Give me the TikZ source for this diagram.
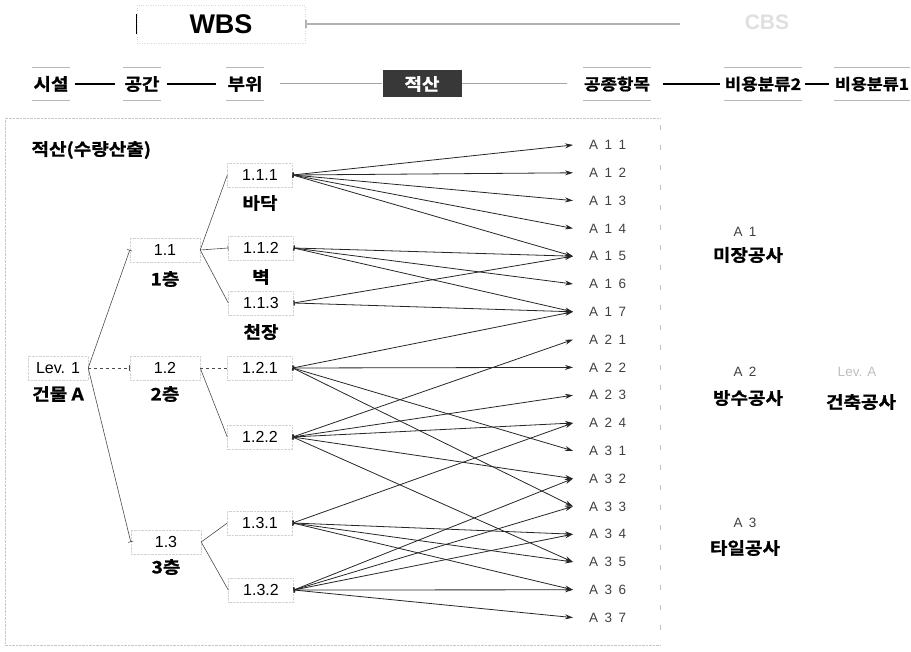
\documentclass[tikz,border=0pt]{standalone}
\usepackage{fontspec}
\setmainfont{Liberation Sans}
\newfontfamily\krfont{Noto Sans CJK KR}[BoldFont=* Bold, FakeStretch=1.12, BoldFeatures={FakeBold=1.2}]
\usetikzlibrary{arrows, arrows.meta, positioning}
\tikzstyle{arrow} = [black!85, line width=0.8pt, {Bar[width=5pt]}-{Stealth[length=8pt, width=5pt]}]
\tikzstyle{branch} = [black!70, line width=0.6pt]
\tikzstyle{num} = [draw=gray!35, densely dotted, minimum height=24pt, font=\fontsize{16}{18}\selectfont]
\tikzstyle{kr} = [font=\krfont\fontsize{17}{19}\selectfont\bfseries]
\tikzstyle{albl} = [text=black!75, font=\fontsize{13.5}{15}\selectfont, inner sep=1pt]
\tikzstyle{hdr} = [kr, minimum height=32pt, inner xsep=1pt]
\newcommand{\asp}{\hspace{6.5pt}}

\begin{document}
\begin{tikzpicture}[x=1pt, y=-1pt]
        \useasboundingbox (0,0) rectangle (911,652);

        % WBS / CBS
        \node at (221,24) [draw=gray!30, dotted, minimum width=168pt, minimum height=38pt, font=\fontsize{27}{30}\selectfont\bfseries] (wbs) {WBS};
        \draw [line width=1pt] ([yshift=-10pt]wbs.west) -- ([yshift=10pt]wbs.west);
        \node at (767,22) [text=gray!25, font=\fontsize{21}{24}\selectfont\bfseries] (cbs) {CBS};
        \coordinate (wbsend) at (680,24);
        \draw [gray!60, line width=1.4pt, |-] (wbs.east) -- (wbsend);

        % header row
        \node at (51,84) [hdr] (h1) {시설};
        \node at (142,84) [hdr] (h2) {공간};
        \node at (245,84) [hdr] (h3) {부위};
        \node at (422,84) [kr, fill=black!78, text=white, minimum width=79pt, minimum height=27pt] (h4) {적산};
        \node at (617,84) [hdr, font=\krfont\fontsize{16}{18}\selectfont\bfseries] (h5) {공종항목};
        \node at (763,84) [hdr, font=\krfont\fontsize{16}{18}\selectfont\bfseries] (h6) {비용분류2};
        \node at (872,84) [hdr, font=\krfont\fontsize{15.5}{18}\selectfont\bfseries] (h7) {비용분류1};
        \foreach \h in {h1,h2,h3,h5,h6,h7}
            \draw [gray!55, line width=1.3pt] (\h.north west) -- (\h.north east) (\h.south west) -- (\h.south east);
        \draw [line width=2pt, shorten <=5pt, shorten >=8pt] (h1) -- (h2);
        \draw [line width=2pt, shorten <=6pt, shorten >=10pt] (h2) -- (h3);
        \draw [gray!70, line width=1pt, shorten <=16pt] (h3) -- (h4);
        \draw [gray!70, line width=1pt, shorten >=16pt] (h4) -- (h5);
        \draw [line width=1.5pt, shorten <=12pt, shorten >=4pt] (h5) -- (h6);
        \draw [line width=2pt, shorten <=3pt, shorten >=5pt] (h6) -- (h7);

        % frame
        \draw [gray!45, densely dotted] (660,118) -- (5,118) -- (5,645) -- (660,645);
        \draw [gray!50, dash pattern=on 5pt off 15pt] (660,125) -- (660,640);
        \node at (28,150) [kr, anchor=west] (title) {적산(수량산출)};

        % tree
        \node at (58,368) [num, minimum width=60pt] (lev) {Lev. 1};
        \node at (58,394) [kr] (levk) {건물 A};
        \node at (165,250) [num, minimum width=70pt] (n11) {1.1};
        \node at (165,279) [kr] (n11k) {1층};
        \node at (165,368) [num, minimum width=70pt] (n12) {1.2};
        \node at (165,394) [kr] (n12k) {2층};
        \node at (166,542) [num, minimum width=70pt] (n13) {1.3};
        \node at (166,567) [kr] (n13k) {3층};
        \node at (260,175) [num, minimum width=65pt] (n111) {1.1.1};
        \node at (260,203) [kr] (n111k) {바닥};
        \node at (261,248) [num, minimum width=65pt] (n112) {1.1.2};
        \node at (261,277) [kr] (n112k) {벽};
        \node at (261,303) [num, minimum width=65pt] (n113) {1.1.3};
        \node at (261,332) [kr] (n113k) {천장};
        \node at (260,368) [num, minimum width=65pt] (n121) {1.2.1};
        \node at (260,437) [num, minimum width=65pt] (n122) {1.2.2};
        \node at (260,523) [num, minimum width=65pt] (n131) {1.3.1};
        \node at (261,590) [num, minimum width=65pt] (n132) {1.3.2};

        \draw [branch, -|] (lev.east) -- (n11.west);
        \draw [branch, dashed, -|] (lev.east) -- (n12.west);
        \draw [branch, -|] (lev.east) -- (n13.west);
        \draw [branch] (n11.east) -- (n111.west);
        \draw [branch, -|] (n11.east) -- (n112.west);
        \draw [branch] (n11.east) -- (n113.west);
        \draw [branch, dashed] (n12.east) -- (n121.west);
        \draw [branch] (n12.east) -- (n122.west);
        \draw [branch] (n13.east) -- (n131.west);
        \draw [branch] (n13.east) -- (n132.west);

        % work items
        \foreach \i/\j [count=\k from 0] in {1/1,1/2,1/3,1/4,1/5,1/6,1/7,2/1,2/2,2/3,2/4,3/1,3/2,3/3,3/4,3/5,3/6,3/7} {
            \coordinate (t\i\j) at (573,{145+27.8*\k});
            \node at (588,{145+27.8*\k}) [albl, anchor=west] (a\i\j) {A\asp\i\asp\j};
        }
        \foreach \s/\tl in {n111/{11,12,13,14,15}, n112/{15,16,17}, n113/{15,17}, n121/{17,22,31,33},
                n122/{21,23,24,32,35}, n131/{24,34,35,36}, n132/{32,33,34,36,37}}
            \foreach \t in \tl
                \draw [arrow] (\s.east) -- (t\t);

        % cost classes
        \node at (745,232) [albl] (c1) {A\asp 1};
        \node at (748,255) [kr] (c1k) {미장공사};
        \node at (745,372) [albl] (c2) {A\asp 2};
        \node at (748,398) [kr] (c2k) {방수공사};
        \node at (745,523) [albl] (c3) {A\asp 3};
        \node at (745,548) [kr] (c3k) {타일공사};
        \node at (857,372) [albl, text=gray!50] (d1) {Lev. A};
        \node at (861,402) [kr] (d1k) {건축공사};

\end{tikzpicture}
\end{document}
